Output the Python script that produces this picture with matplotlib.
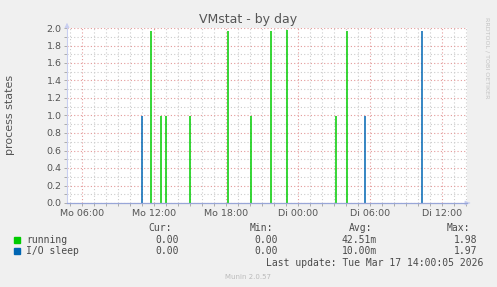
import matplotlib
matplotlib.use("Agg")
import matplotlib.pyplot as plt
from matplotlib.ticker import MultipleLocator, FixedLocator

# Data: hours since Monday 00:00
running_times = [11.69, 12.52, 12.94, 15.00, 18.11, 20.03, 21.69, 23.03, 27.11, 28.03]
running_vals  = [1.97, 1.00, 1.00, 1.00, 1.97, 1.00, 1.97, 1.98, 1.00, 1.97]
iosleep_times = [10.94, 29.53, 34.28]
iosleep_vals  = [1.00, 1.00, 1.97]

xtick_pos = [6, 12, 18, 24, 30, 36]
xtick_labels = ["Mo 06:00", "Mo 12:00", "Mo 18:00", "Di 00:00", "Di 06:00", "Di 12:00"]

series_names = ["running", "I/O sleep"]
series_colors = ["#00cc00", "#0066b3"]
cur_vals = ["0.00", "0.00"]
min_vals = ["0.00", "0.00"]
avg_vals = ["42.51m", "10.00m"]
max_vals = ["1.98", "1.97"]

W, H = 497, 287
fig = plt.figure(figsize=(W / 100, H / 100), dpi=100, facecolor="#f0f0f0")
x0, x1, y0, y1 = 67, 467, 28, 203
ax = fig.add_axes([x0 / W, 1 - y1 / H, (x1 - x0) / W, (y1 - y0) / H])
ax.set_facecolor("white")

ax.set_xlim(4.72, 38.05)
ax.set_ylim(0, 2.0)

# grid
ax.xaxis.set_major_locator(FixedLocator(xtick_pos))
ax.xaxis.set_minor_locator(MultipleLocator(1))
ax.yaxis.set_major_locator(MultipleLocator(0.2))
ax.yaxis.set_minor_locator(MultipleLocator(0.1))
ax.grid(which="minor", color="#cccccc", linestyle=(0, (1, 2)), linewidth=0.8)
ax.grid(which="major", color="#e49a9a", linestyle=(0, (1, 2)), linewidth=0.8)
ax.set_axisbelow(True)

ax.vlines(running_times, 0, running_vals, color=series_colors[0], linewidth=1.1, zorder=3)
ax.vlines(iosleep_times, 0, iosleep_vals, color=series_colors[1], linewidth=1.1, zorder=3)

for s in ["top", "right"]:
    ax.spines[s].set_visible(False)
ax.spines["left"].set_color("#c8cef0")
ax.spines["bottom"].set_color("#98a6d8")
ax.spines["left"].set_linewidth(0.8)
ax.spines["bottom"].set_linewidth(0.9)
ax.spines["bottom"].set_zorder(4)

ax.set_xticklabels(xtick_labels)
ax.set_yticklabels([f"{v:.1f}" for v in ax.get_yticks()])
ax.tick_params(axis="both", which="both", colors="#a0a0a0", labelcolor="#555555",
               labelsize=6.8, length=2, width=0.6, pad=2)

# arrows
ax.annotate("", xy=(0, 1.045), xytext=(0, 1.0), xycoords="axes fraction",
            arrowprops=dict(arrowstyle="-|>", color="#c8cef0", lw=0.6, mutation_scale=7))
ax.annotate("", xy=(1.014, 0), xytext=(1.0, 0), xycoords="axes fraction",
            arrowprops=dict(arrowstyle="-|>", color="#c8cef0", lw=0.6, mutation_scale=7))

fig.text(248 / W, 1 - 19 / H, "VMstat - by day", ha="center", va="center",
         fontsize=9, color="#555555")
fig.text(10 / W, 1 - 115 / H, "process states", ha="center", va="center",
         rotation=90, fontsize=8, color="#555555")
fig.text(487 / W, 1 - 58 / H, "RRDTOOL / TOBI OETIKER", ha="center", va="center",
         rotation=270, fontsize=4.6, color="#c4c4c4")

mono = "DejaVu Sans Mono"
fs = 7
tc = "#4a4a4a"
def fy(y):
    return 1 - y / H

for xr, lab in zip([172, 273, 372, 470], ["Cur:", "Min:", "Avg:", "Max:"]):
    fig.text(xr / W, fy(228), lab, ha="right", va="center", family=mono, fontsize=fs, color=tc)

rows_y = [240, 251]
for i in range(2):
    y = rows_y[i]
    fig.patches.append(plt.Rectangle((14 / W, fy(y + 3)), 6 / W, 6 / H,
                                     transform=fig.transFigure, color=series_colors[i]))
    fig.text(26.5 / W, fy(y), series_names[i], ha="left", va="center", family=mono, fontsize=fs, color=tc)
    for xr, v in zip([179, 278, 377, 477], [cur_vals[i], min_vals[i], avg_vals[i], max_vals[i]]):
        fig.text(xr / W, fy(y), v, ha="right", va="center", family=mono, fontsize=fs, color=tc)

fig.text(483 / W, fy(263), "Last update: Tue Mar 17 14:00:05 2026", ha="right", va="center",
         family=mono, fontsize=fs, color=tc)
fig.text(248 / W, fy(277), "Munin 2.0.57", ha="center", va="center", fontsize=5, color="#bbbbbb")

fig.savefig("out.png", dpi=100, facecolor=fig.get_facecolor())
